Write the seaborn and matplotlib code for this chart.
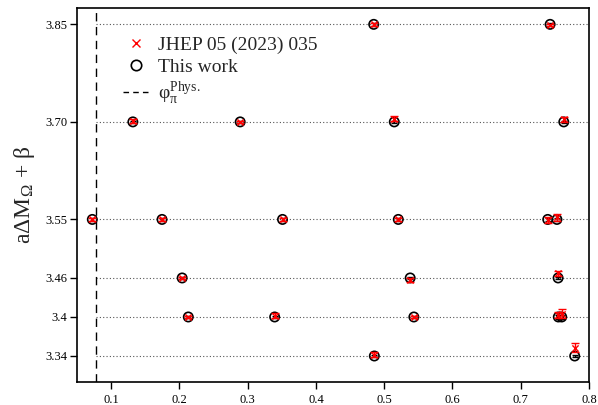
import matplotlib
matplotlib.use("Agg")
import matplotlib.pyplot as plt
import seaborn as sns
import pandas as pd
from matplotlib.lines import Line2D

# Pion mass parameter for each ensemble and its beta level
phi_pi = [0.4846, 0.743, 0.1318, 0.289, 0.5147, 0.763, 0.0724, 0.1745, 0.351,
          0.5206, 0.7395, 0.753, 0.204, 0.538, 0.7547, 0.213, 0.3395, 0.5434,
          0.755, 0.760, 0.4855, 0.779]
beta = [3.85, 3.85, 3.70, 3.70, 3.70, 3.70, 3.55, 3.55, 3.55,
        3.55, 3.55, 3.55, 3.46, 3.46, 3.46, 3.40, 3.40, 3.40,
        3.40, 3.40, 3.34, 3.34]

# a*dM_Omega + beta : this work
this_val = [3.850, 3.850, 3.700, 3.700, 3.700, 3.700, 3.550, 3.550, 3.550,
            3.550, 3.550, 3.550, 3.460, 3.460, 3.460, 3.400, 3.400, 3.400,
            3.400, 3.400, 3.340, 3.340]
this_err = [0.002, 0.002, 0.002, 0.002, 0.002, 0.002, 0.002, 0.002, 0.002,
            0.002, 0.002, 0.002, 0.002, 0.002, 0.002, 0.002, 0.002, 0.002,
            0.003, 0.003, 0.002, 0.002]

# a*dM_Omega + beta : JHEP 05 (2023) 035
jhep_val = [3.850, 3.849, 3.702, 3.700, 3.705, 3.704, 3.550, 3.550, 3.550,
            3.550, 3.549, 3.553, 3.460, 3.457, 3.467, 3.400, 3.402, 3.400,
            3.403, 3.405, 3.342, 3.353]
jhep_err = [0.002, 0.002, 0.003, 0.002, 0.004, 0.004, 0.002, 0.002, 0.002,
            0.002, 0.004, 0.006, 0.002, 0.003, 0.004, 0.002, 0.004, 0.002,
            0.005, 0.007, 0.004, 0.007]

beta_levels = [3.85, 3.70, 3.55, 3.46, 3.40, 3.34]
beta_labels = ["3.85", "3.70", "3.55", "3.46", "3.4", "3.34"]
x_ticks = [0.1, 0.2, 0.3, 0.4, 0.5, 0.6, 0.7, 0.8]
phi_phys = 0.078

df = pd.DataFrame({"phi": phi_pi, "beta": beta,
                   "this": this_val, "this_err": this_err,
                   "jhep": jhep_val, "jhep_err": jhep_err})

sns.set_style("ticks")
plt.rcParams["font.family"] = ["Liberation Serif", "DejaVu Serif"]
plt.rcParams["mathtext.fontset"] = "stix"

fig = plt.figure(figsize=(5.98, 4.05), dpi=100)
ax = fig.add_axes([0.1288, 0.0568, 0.8562, 0.9232])

# dotted guide lines at each beta
ax.hlines(beta_levels, phi_phys, 0.8, colors="#555555", linestyles=(0, (1, 2)),
          linewidth=0.8, zorder=1)
ax.axvline(phi_phys, color="black", linestyle=(0, (6, 4)), linewidth=1.0, zorder=1)

# this work: open circles with error bars
ax.errorbar(df["phi"], df["this"], yerr=df["this_err"], fmt="none",
            ecolor="black", elinewidth=1.0, capsize=2.5, capthick=1.0, zorder=3)
sns.scatterplot(data=df, x="phi", y="this", ax=ax, marker="o", s=45,
                facecolors="none", edgecolor="black", linewidth=1.2,
                zorder=4, legend=False)

# JHEP 05 (2023) 035: red crosses with error bars
ax.errorbar(df["phi"], df["jhep"], yerr=df["jhep_err"], fmt="none",
            ecolor="red", elinewidth=1.0, capsize=3, capthick=1.0, zorder=5)
sns.scatterplot(data=df, x="phi", y="jhep", ax=ax, marker="x", s=20,
                color="red", linewidth=1.0, zorder=6, legend=False)

ax.set_xlim(0.05, 0.8)
ax.set_ylim(3.30, 3.875)
ax.set_xticks(x_ticks)
ax.set_xticklabels([f"{v:.1f}" for v in x_ticks])
ax.set_yticks(beta_levels)
ax.set_yticklabels(beta_labels)
ax.tick_params(axis="both", direction="out", length=5, width=1.0,
               labelsize=9, colors="black")
ax.tick_params(axis="y", pad=2)
for sp in ax.spines.values():
    sp.set_visible(True)
    sp.set_linewidth(1.2)
    sp.set_color("black")

ax.set_xlabel("")
ax.set_ylabel(r"aΔM$_\mathregular{Ω}$ + β", fontsize=17, labelpad=6)

handles = [
    Line2D([], [], marker="x", color="red", linestyle="none", markersize=6,
           markeredgewidth=1.0),
    Line2D([], [], marker="o", markerfacecolor="none", markeredgecolor="black",
           linestyle="none", markersize=7.5, markeredgewidth=1.2),
    Line2D([], [], color="black", linestyle=(0, (4, 3)), linewidth=1.0),
]
labels = ["JHEP 05 (2023) 035", "This work",
          r"φ$_\mathregular{π}^\mathregular{Phys.}$"]
ax.legend(handles, labels, loc="upper left", bbox_to_anchor=(0.075, 0.945),
          frameon=False, fontsize=14, handlelength=1.3, handletextpad=0.5,
          labelspacing=0.2, borderaxespad=0)

fig.savefig("out.png", dpi=100)
